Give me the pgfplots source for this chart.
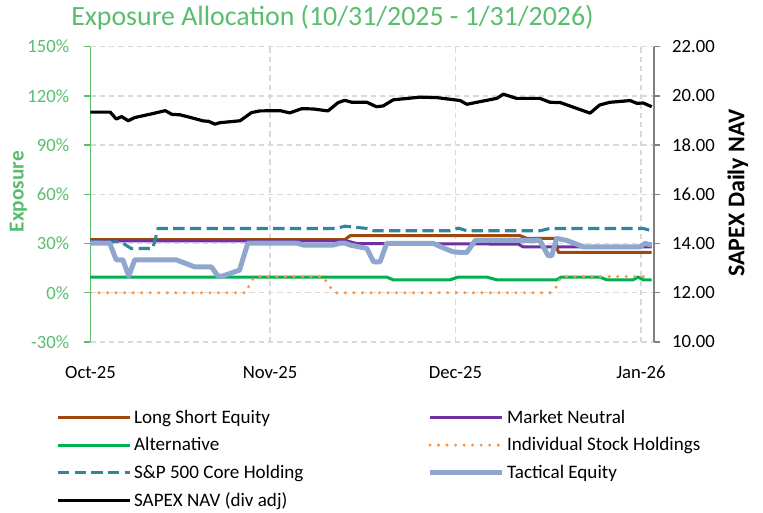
\documentclass[border=0pt]{standalone}
\usepackage{fontspec}
\setmainfont{Carlito}
\usepackage{pgfplots}
\pgfplotsset{compat=1.18}
\definecolor{cLSE}{RGB}{158,72,14}
\definecolor{cMN}{RGB}{112,48,160}
\definecolor{cAlt}{RGB}{0,176,80}
\definecolor{cISH}{RGB}{247,150,70}
\definecolor{cSP}{RGB}{49,133,156}
\definecolor{cTE}{RGB}{143,167,206}
\definecolor{cTitle}{RGB}{88,190,110}
\definecolor{cGrid}{RGB}{217,217,217}
\definecolor{cRAx}{RGB}{128,128,128}
\pgfplotsset{
  sLSE/.style={color=cLSE, line width=2.3pt, line join=round},
  sMN/.style={color=cMN, line width=2.3pt, line join=round},
  sAlt/.style={color=cAlt, line width=2.3pt, line join=round},
  sISH/.style={color=cISH, line width=2.5pt, line cap=round, dash pattern=on 0pt off 6.4pt},
  sSP/.style={color=cSP, line width=2.3pt, dash pattern=on 8.5pt off 4pt},
  sTE/.style={color=cTE, line width=3.75pt, line join=round},
  sNAV/.style={color=black, line width=2.4pt, line join=round},
}
\begin{document}
\begin{tikzpicture}
\useasboundingbox (-67.875pt,-127.5pt) rectangle (504.375pt,256.5pt);
\begin{axis}[
  scale only axis, width=422.25pt, height=221.5pt,
  xmin=0, xmax=94.1, ymin=-30, ymax=150,
  axis x line*=bottom, axis y line*=left,
  x axis line style={draw=none},
  y axis line style={color=cTitle, line width=1.1pt},
  xtick={0,30,61,92}, xticklabels={Oct-25,Nov-25,Dec-25,Jan-26},
  xtick style={draw=none},
  ytick={-30,0,30,60,90,120,150},
  yticklabel={\pgfmathprintnumber{\tick}\%},
  ytick style={color=cTitle, line width=1pt},
  tick align=outside, major tick length=4.5pt,
  xmajorgrids, ymajorgrids,
  grid style={color=cGrid, line width=1pt, dash pattern=on 4pt off 3pt},
  tick label style={font=\fontsize{14}{16}\selectfont},
  yticklabel style={color=cTitle, xshift=-8pt},
  xticklabel style={yshift=-10pt},
  /pgf/number format/assume math mode=true,
  ylabel={Exposure},
  ylabel style={at={(axis description cs:-0.128,0.509)}, anchor=center, font=\bfseries\fontsize{16}{18}\selectfont, color=cTitle},
  title={Exposure Allocation (10/31/2025 - 1/31/2026)},
  title style={at={(axis description cs:0.4298,1)}, anchor=center, yshift=15.5pt, font=\fontsize{20.9}{24}\selectfont, color=cTitle},
]
% Long Short Equity
\addplot[sLSE] coordinates {(0,32.4) (42.5,32.4) (43.4,34.8) (71.8,34.8) (72.9,33.2) (77.6,33.2) (78.2,24.6) (93.8,24.6)};
% Market Neutral
\addplot[sMN] coordinates {(0,31.6) (42.8,31.6) (44.5,30.0) (71.5,29.7) (72.3,28.0) (93.8,28.0)};
% Alternative
\addplot[sAlt] coordinates {(0,9.6) (49.5,9.6) (50.6,7.9) (60.1,7.9) (61.5,9.6) (66.2,9.6) (67.9,7.9) (77.9,7.9) (78.7,9.6) (85.1,9.6) (86.3,7.9) (90.7,7.9) (91.5,9.6) (92.4,7.9) (93.8,7.9)};
% Individual Stock Holdings
\addplot[sISH] coordinates {(0,0) (26.0,0) (26.6,5.3) (27.4,9.9) (38.9,9.9) (40.0,3.7) (40.9,0) (76.8,0) (77.6,1.6) (78.2,6.7) (78.7,9.9) (93.8,9.9)};
% S&P 500 Core Holding
\addplot[sSP] coordinates {(0,31.0) (5.1,31.0) (6.8,27.0) (10.4,27.0) (11.3,39.2) (41.1,39.2) (42.5,40.6) (46.2,39.2) (47.3,37.8) (60.1,37.8) (61.5,39.4) (62.9,37.8) (75.1,37.8) (76.8,39.2) (92.4,39.2) (93.8,37.8)};
% Tactical Equity
\addplot[sTE] coordinates {(0,30.3) (3.2,30.3) (4.3,20.1) (5.4,20.1) (6.4,10.2) (7.4,20.1) (14.3,20.1) (17.4,15.8) (20.2,15.8) (21.3,10.2) (22.1,10.2) (24.9,13.8) (26.3,30.3) (34.5,30.3) (35.6,29.1) (40.6,29.1) (41.7,30.3) (42.5,30.3) (43.4,29.1) (46.2,27.0) (47.3,18.9) (48.4,18.9) (49.5,30.1) (57.3,30.1) (59.2,27.0) (60.6,25.0) (61.8,24.6) (62.9,24.6) (64.3,31.9) (75.1,31.9) (76.5,22.6) (77.1,22.6) (77.9,33.1) (79.6,31.9) (82.4,28.0) (91.8,28.0) (92.7,30.1) (93.8,29.1)};
\end{axis}
\begin{axis}[
  scale only axis, width=422.25pt, height=221.5pt,
  xmin=0, xmax=94.1, ymin=10, ymax=22,
  axis x line=none, axis y line*=right,
  y axis line style={color=cRAx, line width=1.5pt},
  ytick={10,12,14,16,18,20,22},
  ytick style={color=cRAx, line width=1pt},
  tick align=outside, major tick length=4.5pt,
  yticklabel style={xshift=6pt, font=\fontsize{14}{16}\selectfont, /pgf/number format/.cd, fixed, fixed zerofill, precision=2, assume math mode=true},
  ylabel={SAPEX Daily NAV},
  ylabel style={at={(axis description cs:1.150,0.505)}, anchor=center, font=\bfseries\fontsize{18}{20}\selectfont},
  legend columns=2,
  legend image code/.code={\draw[#1] (0pt,0pt) -- (54pt,0pt);},
  legend style={at={(axis description cs:-0.0684,-0.211)}, anchor=north west, draw=none, fill=none,
    font=\fontsize{14.3}{16}\selectfont, row sep=5.25pt, cells={anchor=west},
    /tikz/every even column/.append style={column sep=91pt}},
]
\addlegendimage{sLSE}\addlegendentry{Long Short Equity}
\addlegendimage{sMN}\addlegendentry{Market Neutral}
\addlegendimage{sAlt}\addlegendentry{Alternative}
\addlegendimage{sISH}\addlegendentry{Individual Stock Holdings}
\addlegendimage{sSP}\addlegendentry{S\&P 500 Core Holding}
\addlegendimage{sTE}\addlegendentry{Tactical Equity}
\addplot[sNAV] coordinates {(0,19.34) (3.3,19.34) (4.3,19.06) (5.2,19.16) (6.3,18.99) (7.4,19.12) (10.2,19.27) (12.5,19.40) (13.6,19.25) (15.0,19.23) (16.6,19.13) (18.9,18.98) (19.7,18.97) (20.8,18.85) (21.6,18.91) (25.0,18.99) (26.9,19.32) (28.3,19.39) (31.7,19.40) (33.3,19.31) (35.3,19.48) (37.2,19.47) (39.7,19.39) (41.4,19.73) (42.5,19.82) (43.7,19.74) (46.2,19.74) (47.8,19.56) (48.9,19.59) (50.6,19.84) (55.1,19.95) (57.9,19.93) (61.8,19.81) (62.9,19.66) (65.6,19.79) (67.9,19.90) (69.0,20.07) (71.2,19.90) (75.1,19.90) (76.8,19.74) (78.5,19.73) (83.5,19.30) (85.1,19.63) (86.8,19.74) (90.2,19.81) (91.3,19.70) (92.4,19.71) (93.8,19.56)};
\addlegendentry{SAPEX NAV (div adj)}
\end{axis}
\end{tikzpicture}
\end{document}
